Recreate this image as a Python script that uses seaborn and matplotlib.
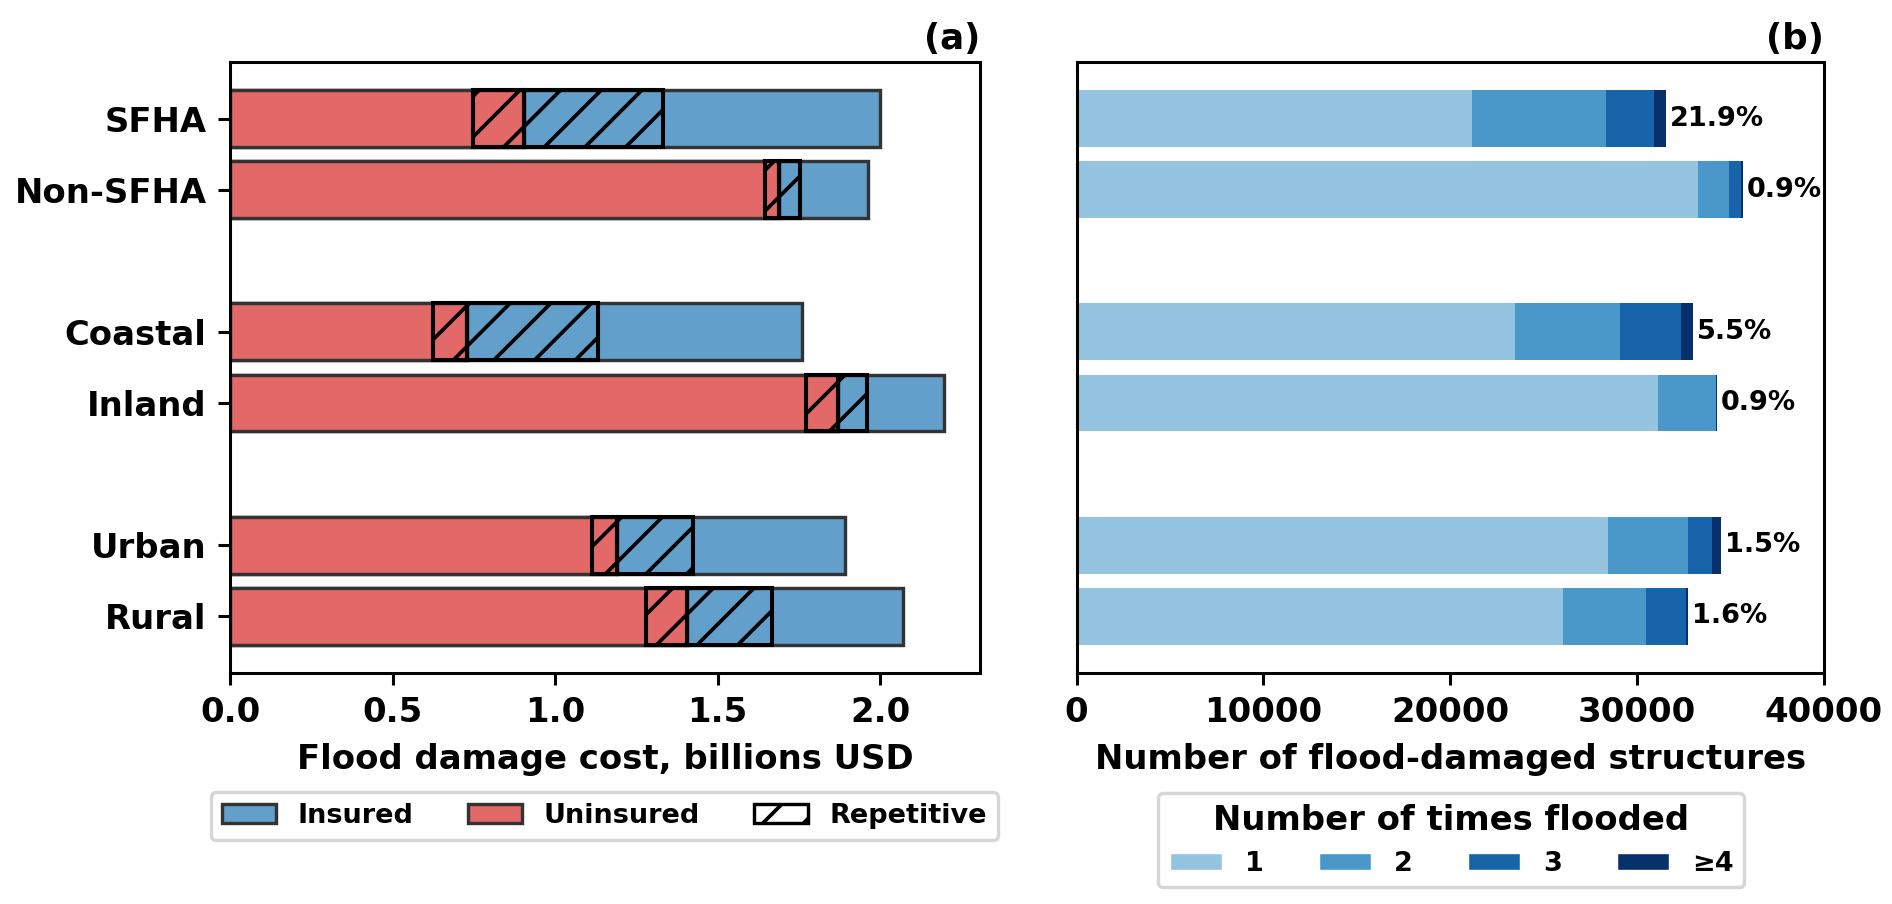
import numpy as np
import pandas as pd
import matplotlib
matplotlib.use('Agg')
import matplotlib.pyplot as plt
from matplotlib.patches import Patch
import seaborn as sns

# categories (top to bottom)
categories = ['SFHA', 'Non-SFHA', 'Coastal', 'Inland', 'Urban', 'Rural']
ypos = [0, 1, 3, 4, 6, 7]

# (a) flood damage cost, billions USD
unins_nonrep = [0.746, 1.646, 0.623, 1.772, 1.112, 1.280]
unins_rep = [0.157, 0.044, 0.105, 0.097, 0.078, 0.127]
ins_rep = [0.429, 0.064, 0.403, 0.090, 0.235, 0.261]
ins_nonrep = [0.668, 0.209, 0.630, 0.239, 0.467, 0.403]

# (b) number of flood-damaged structures by times flooded
flood_1 = [21169, 33247, 23442, 31104, 28442, 26039]
flood_2 = [7143, 1688, 5649, 3117, 4285, 4416]
flood_3 = [2597, 649, 3247, 29, 1299, 2142]
flood_4 = [649, 66, 649, 10, 455, 130]
flood_labels = ['1', '2', '3', '≥4']
pct_labels = ['21.9%', '0.9%', '5.5%', '0.9%', '1.5%', '1.6%']

sns.set_style('ticks')
plt.rcParams['font.family'] = ['DejaVu Sans']
plt.rcParams['font.weight'] = 'bold'
plt.rcParams['axes.labelweight'] = 'bold'
plt.rcParams['axes.titleweight'] = 'bold'
plt.rcParams['font.size'] = 10
for k in ['text.color', 'axes.labelcolor', 'xtick.color', 'ytick.color', 'axes.edgecolor']:
    plt.rcParams[k] = 'black'
plt.rcParams['hatch.linewidth'] = 1.1

red = '#e36868'
blue = '#62a0cb'
edge = '#333333'
blues = [plt.cm.Blues(v) for v in [0.4, 0.6, 0.8, 1.0]]

fig = plt.figure(figsize=(1892 / 244, 904 / 244), dpi=244)
ax1 = fig.add_axes([0.1218, 0.256, 0.3962, 0.675])
ax2 = fig.add_axes([0.569, 0.256, 0.395, 0.675])

# ---- panel (a)
df = pd.DataFrame({'cat': categories, 'y': ypos,
                   'un_nr': unins_nonrep, 'un_r': unins_rep,
                   'in_r': ins_rep, 'in_nr': ins_nonrep})
df['unins'] = df['un_nr'] + df['un_r']
df['rep_end'] = df['unins'] + df['in_r']
df['total'] = df['rep_end'] + df['in_nr']

sns.barplot(data=df, x='total', y='y', orient='y', native_scale=True, width=0.8,
            color=blue, saturation=1, edgecolor=edge, linewidth=1.0, errorbar=None, ax=ax1)
sns.barplot(data=df, x='unins', y='y', orient='y', native_scale=True, width=0.8,
            color=red, saturation=1, edgecolor=edge, linewidth=1.0, errorbar=None, ax=ax1)
# repetitive parts, hatched
ax1.barh(df['y'], df['un_r'], left=df['un_nr'], height=0.8, fill=False,
         hatch='//', edgecolor='black', linewidth=1.2)
ax1.barh(df['y'], df['in_r'], left=df['unins'], height=0.8, fill=False,
         hatch='//', edgecolor='black', linewidth=1.2)

ax1.set_yticks(ypos)
ax1.set_yticklabels(categories)
ax1.invert_yaxis()
ax1.set_ylabel('')
ax1.set_xlabel('Flood damage cost, billions USD')
ax1.set_title('(a)', loc='right', fontsize=10.5, pad=4)

# ---- panel (b)
cum = np.cumsum([flood_1, flood_2, flood_3, flood_4], axis=0)
for i in range(3, -1, -1):
    sns.barplot(x=cum[i], y=ypos, orient='y', native_scale=True, width=0.8,
                color=blues[i], saturation=1, linewidth=0, errorbar=None, ax=ax2)
for yy, tot, lab in zip(ypos, cum[3], pct_labels):
    ax2.text(tot + 200, yy, lab, va='center', ha='left', fontweight='bold', fontsize=8)
ax2.set_xlim(0, 40000)
ax2.set_yticks([])
ax2.invert_yaxis()
ax2.set_ylabel('')
ax2.set_xlabel('Number of flood-damaged structures')
ax2.set_title('(b)', loc='right', fontsize=10.5, pad=4)

for ax in (ax1, ax2):
    for s in ax.spines.values():
        s.set_linewidth(0.9)
    ax.tick_params(width=0.9)

h1 = [Patch(facecolor=blue, edgecolor=edge, label='Insured'),
      Patch(facecolor=red, edgecolor=edge, label='Uninsured'),
      Patch(facecolor='white', edgecolor='black', hatch='//', label='Repetitive')]
fig.legend(handles=h1, loc='center', bbox_to_anchor=(0.3195, 0.097), ncol=3, fontsize=8)

h2 = [Patch(facecolor=blues[i], label=flood_labels[i]) for i in range(4)]
fig.legend(handles=h2, loc='center', bbox_to_anchor=(0.767, 0.0705), ncol=4, fontsize=8,
           title='Number of times flooded', title_fontproperties={'weight': 'bold', 'size': 10})

fig.savefig('out.png', dpi=244)
